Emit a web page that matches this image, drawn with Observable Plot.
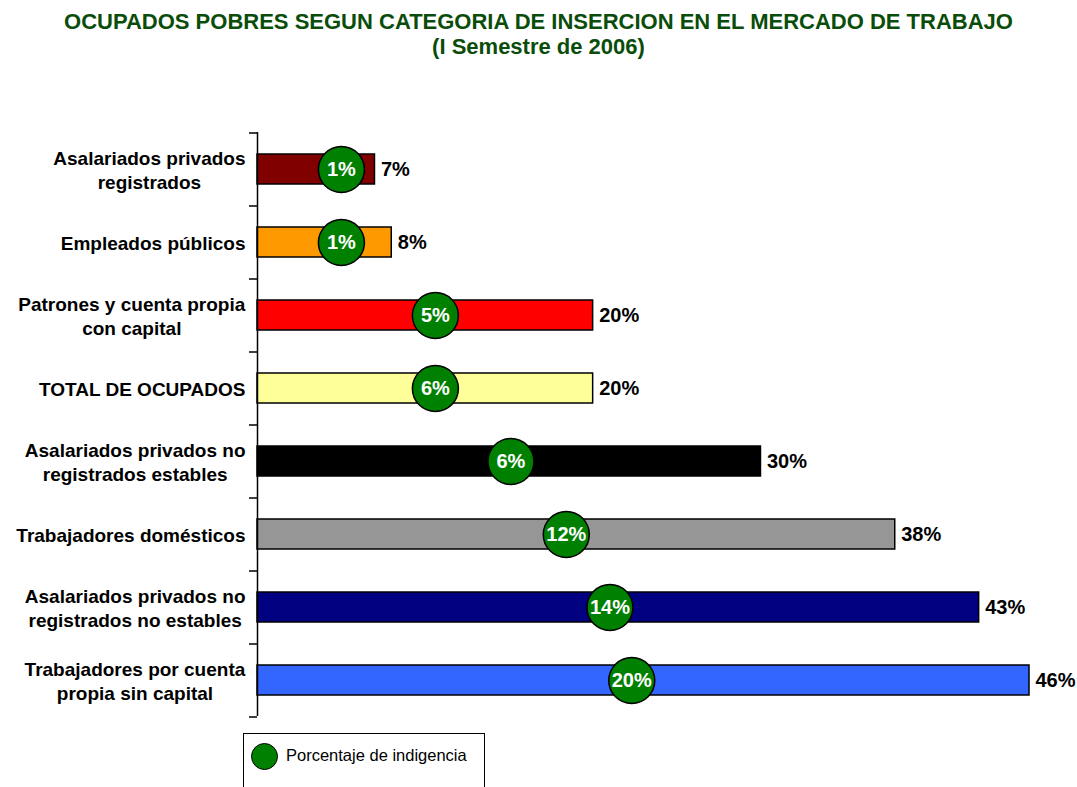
<!DOCTYPE html>
<html>
<head>
<meta charset="utf-8">
<script src="https://cdn.jsdelivr.net/npm/d3@7"></script>
<script src="https://cdn.jsdelivr.net/npm/@observablehq/plot@0.6"></script>
<style>
  html, body { margin: 0; padding: 0; background: #fff; }
  body { width: 1077px; height: 787px; overflow: hidden; position: relative; font-family: "Liberation Sans", Arial, sans-serif; }
  #title { height: 80px; box-sizing: border-box; padding-top: 9px; text-align: center; color: #0a4d0a; font-weight: bold; font-size: 22px; line-height: 25px; }
  #chart svg { display: block; }
  #legend { position: absolute; left: 243px; top: 733px; width: 242px; height: 70px; border: 1.5px solid #000; box-sizing: border-box; background: #fff; }
  #legend .dot { position: absolute; left: 7px; top: 9px; width: 27px; height: 27px; border-radius: 50%; background: #008000; border: 1.5px solid #000; box-sizing: border-box; }
  #legend .lbl { position: absolute; left: 42px; top: 12px; font-size: 16.5px; color: #000; }
</style>
</head>
<body>
<div id="title">OCUPADOS POBRES SEGUN CATEGORIA DE INSERCION EN EL MERCADO DE TRABAJO<br>(I Semestre de 2006)</div>
<div id="chart"></div>
<div id="legend"><span class="dot"></span><span class="lbl">Porcentaje de indigencia</span></div>
<script>
const categorias = [
  "Asalariados privados\nregistrados",
  "Empleados públicos",
  "Patrones y cuenta propia\ncon capital",
  "TOTAL DE OCUPADOS",
  "Asalariados privados no\nregistrados estables",
  "Trabajadores domésticos",
  "Asalariados privados no\nregistrados no estables",
  "Trabajadores por cuenta\npropia sin capital"
];
const pobreza = [7, 8, 20, 20, 30, 38, 43, 46];
const indigencia = [1, 1, 5, 6, 6, 12, 14, 20];
// horizontal placement of the indigence markers, in % units of the x axis
const posicionIndigencia = [5.0, 5.0, 10.6, 10.6, 15.1, 18.4, 21.0, 22.3];
const colores = ["#800000", "#ff9900", "#ff0000", "#ffff99", "#000000", "#969696", "#000080", "#3366ff"];

const data = categorias.map((c, i) => ({
  cat: c, pob: pobreza[i], ind: indigencia[i], pos: posicionIndigencia[i], color: colores[i]
}));

const font = "Liberation Sans, Arial, sans-serif";
const chart = Plot.plot({
  width: 1077,
  height: 645,
  marginLeft: 257,
  marginRight: 48,
  marginTop: 52,
  marginBottom: 9,
  style: { fontFamily: font, background: "#fff", overflow: "visible" },
  x: { domain: [0, 46], axis: null },
  y: { domain: categorias, paddingInner: 0.59, paddingOuter: 0.295, label: null },
  color: { type: "identity" },
  marks: [
    Plot.barX(data, { x: "pob", y: "cat", fill: "color", stroke: "#000", strokeWidth: 1.5 }),
    Plot.text(data, { x: "pob", y: "cat", text: d => d.pob + "%", dx: 6, textAnchor: "start",
      fontSize: 20, fontWeight: "bold", fill: "#000" }),
    Plot.dot(data, { x: "pos", y: "cat", r: 23, fill: "#008000", stroke: "#000", strokeWidth: 1.5 }),
    Plot.text(data, { x: "pos", y: "cat", text: d => d.ind + "%", fontSize: 20, fontWeight: "bold", fill: "#fff" }),
    Plot.ruleX([0], { stroke: "#000", strokeWidth: 1.5 }),
    Plot.ruleY(categorias, { y: d => d, x1: 0, x2: 0, insetLeft: -8, dy: -36.5, stroke: "#000", strokeWidth: 1.5 }),
    Plot.ruleY(categorias.slice(-1), { y: d => d, x1: 0, x2: 0, insetLeft: -8, dy: 36.5, stroke: "#000", strokeWidth: 1.5 }),
    Plot.axisY({ tickSize: 0, tickPadding: 12, fontSize: 19, fontWeight: "bold", lineHeight: 1.26, label: null,
      textStroke: "none", fill: "#000" })
  ]
});
document.getElementById("chart").appendChild(chart);

// center the lines of each category label within its right-aligned block
const axisTexts = chart.querySelectorAll('g[aria-label="y-axis tick label"] text');
axisTexts.forEach(t => {
  const w = t.getBBox().width;
  t.setAttribute("text-anchor", "middle");
  const tr = t.getAttribute("transform") || "";
  t.setAttribute("transform", tr + ` translate(${-w / 2},0)`);
});
</script>
</body>
</html>
